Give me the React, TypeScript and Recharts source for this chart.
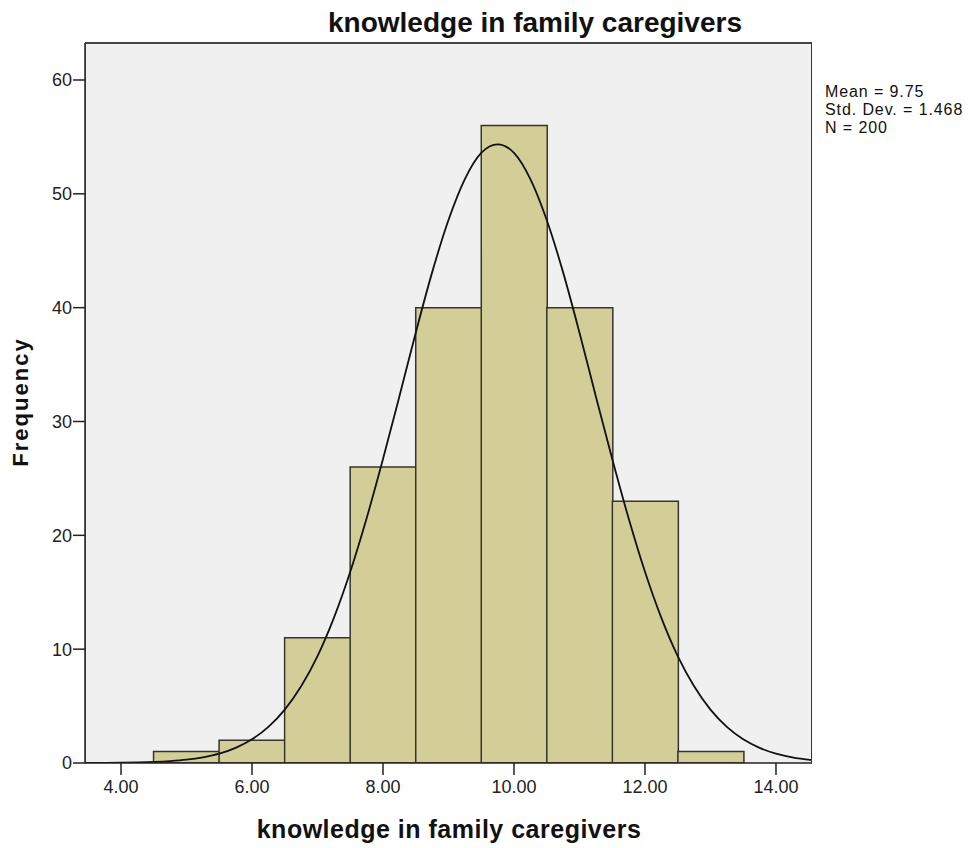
import { ComposedChart, Bar, Line, XAxis, YAxis, CartesianGrid } from 'recharts'

const binLabels = ['3.5-4.5', '4.5-5.5', '5.5-6.5', '6.5-7.5', '7.5-8.5', '8.5-9.5', '9.5-10.5', '10.5-11.5', '11.5-12.5', '12.5-13.5', '13.5-14.5']
const binCounts = [0, 1, 2, 11, 26, 40, 56, 40, 23, 1, 0]

const curveX = [
  3.45, 3.75, 4, 4.25, 4.5, 4.75, 5, 5.25, 5.5, 5.75, 6, 6.25, 6.5, 6.75, 7, 7.25, 7.5, 7.75, 8, 8.25, 8.5, 8.75, 9, 9.25, 9.5,
  9.75, 10, 10.25, 10.5, 10.75, 11, 11.25, 11.5, 11.75, 12, 12.25, 12.5, 12.75, 13, 13.25, 13.5, 13.75, 14, 14.25, 14.55,
]
const curveY = [
  0.005, 0.013, 0.025, 0.049, 0.09, 0.165, 0.29, 0.5, 0.82, 1.33, 2.08, 3.17, 4.69, 6.74, 9.39, 12.75, 16.8, 21.5, 26.7, 32.2, 37.8, 43.1, 47.7, 51.3, 53.6,
  54.35, 53.6, 51.3, 47.7, 43.1, 37.8, 32.2, 26.7, 21.5, 16.8, 12.75, 9.39, 6.74, 4.69, 3.17, 2.08, 1.33, 0.82, 0.5, 0.25,
]

const xTicks = [4, 6, 8, 10, 12, 14]
const yTicks = [0, 10, 20, 30, 40, 50, 60]

const statsLines = ['Mean = 9.75', 'Std. Dev. = 1.468', 'N = 200']
const title = 'knowledge in family caregivers'

const bins = binLabels.map((label, i) => ({ label, count: binCounts[i] }))
const curve = curveX.map((x, i) => ({ x, y: curveY[i] }))

const font = 'Arial, "Liberation Sans", sans-serif'

export default function App() {
  return (
    <div style={{ position: 'absolute', left: 0, top: 0, width: 977, height: 848, background: '#fff', fontFamily: font }}>
      <div
        style={{
          position: 'absolute',
          left: 85,
          top: 42,
          width: 727,
          height: 722,
          border: '1px solid #333',
          borderTop: '2px solid #444',
          borderBottom: 'none',
          boxSizing: 'border-box',
          pointerEvents: 'none',
          zIndex: 2,
        }}
      />
      <ComposedChart
        width={977}
        height={848}
        data={bins}
        barCategoryGap={0}
        barGap={0}
        margin={{ top: 43, right: 165, bottom: 45, left: 28 }}
      >
        <CartesianGrid horizontal={false} vertical={false} fill="#f0f0f0" />
        <XAxis xAxisId="bins" dataKey="label" hide height={0} padding={{ left: 3, right: 3 }} />
        <XAxis
          xAxisId="num"
          type="number"
          dataKey="x"
          domain={[3.45, 14.55]}
          ticks={xTicks}
          allowDataOverflow
          tickFormatter={(v: number) => v.toFixed(2)}
          tick={{ fill: '#222', fontSize: 18, fontFamily: font }}
          tickLine={{ stroke: '#222', strokeWidth: 1.5 }}
          tickSize={12}
          tickMargin={5}
          axisLine={{ stroke: '#222', strokeWidth: 1.5 }}
          height={40}
        />
        <YAxis
          domain={[0, 63.25]}
          ticks={yTicks}
          allowDataOverflow
          tick={{ fill: '#222', fontSize: 18, fontFamily: font }}
          tickLine={{ stroke: '#222', strokeWidth: 1.5 }}
          tickSize={12}
          tickMargin={1}
          axisLine={{ stroke: '#222', strokeWidth: 1.5 }}
          width={57}
        />
        <Bar
          xAxisId="bins"
          dataKey="count"
          fill="#d3ce98"
          stroke="#35352b"
          strokeWidth={1.5}
          isAnimationActive={false}
        />
        <Line
          xAxisId="num"
          data={curve}
          dataKey="y"
          type="monotone"
          stroke="#111"
          strokeWidth={1.8}
          dot={false}
          activeDot={false}
          isAnimationActive={false}
        />
        <text x={535} y={32} textAnchor="middle" fontSize={28} fontWeight="bold" fontFamily={font} fill="#111">
          {title}
        </text>
        <text
          x={449}
          y={838}
          textAnchor="middle"
          fontSize={25}
          fontWeight="bold"
          letterSpacing={0.5}
          fontFamily={font}
          fill="#111"
        >
          {title}
        </text>
        <text
          x={28}
          y={402}
          transform="rotate(-90 28 402)"
          textAnchor="middle"
          fontSize={22}
          fontWeight="bold"
          letterSpacing={2}
          fontFamily={font}
          fill="#111"
        >
          Frequency
        </text>
        {statsLines.map((s, i) => (
          <text key={s} x={825} y={97 + i * 18} fontSize={16} letterSpacing={0.9} fontFamily={font} fill="#111">
            {s}
          </text>
        ))}
      </ComposedChart>
    </div>
  )
}
